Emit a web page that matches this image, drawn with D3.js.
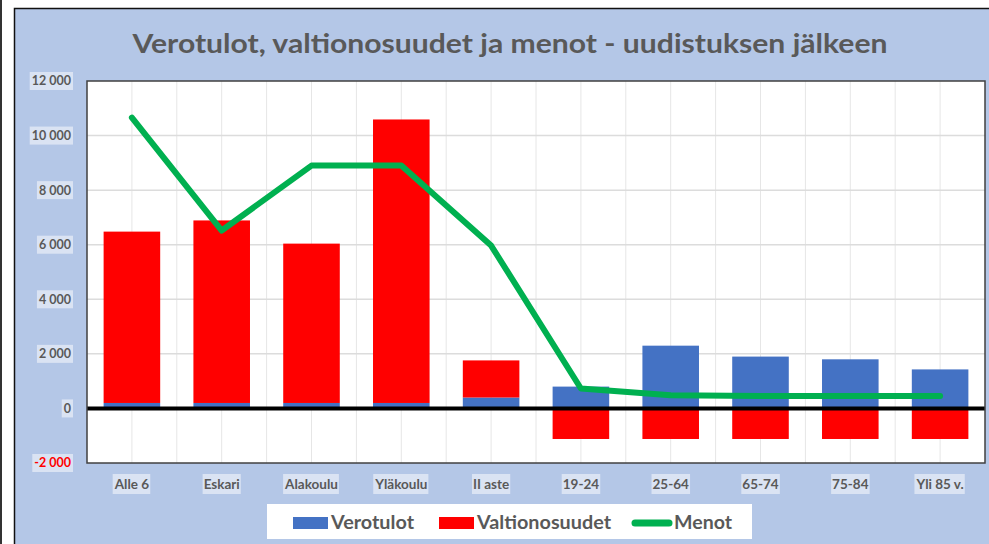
<!DOCTYPE html>
<html>
<head>
<meta charset="utf-8">
<script src="https://cdn.jsdelivr.net/npm/d3@7"></script>
<style>
  body { margin: 0; background: #fff; }
  svg { display: block; font-family: Lato, "Open Sans", sans-serif; }
</style>
</head>
<body>
<div id="chart"></div>
<script>
var width = 989;
var height = 544;

var categories = ["Alle 6", "Eskari", "Alakoulu", "Yläkoulu", "II aste", "19-24", "25-64", "65-74", "75-84", "Yli 85 v."];
var verotulot = [200, 200, 200, 200, 400, 800, 2300, 1900, 1800, 1430];
var valtionosuudet = [6280, 6690, 5840, 10390, 1360, -1120, -1120, -1120, -1120, -1120];
var menot = [10660, 6520, 8900, 8900, 5970, 730, 480, 460, 460, 460];
var yTicks = [-2000, 0, 2000, 4000, 6000, 8000, 10000, 12000];

var plot = {left: 87, top: 81, right: 985, bottom: 463};

var svg = d3.select("#chart").append("svg").attr("width", width).attr("height", height);

// outer frame
svg.append("line").attr("x1", 1).attr("y1", 0).attr("x2", 1).attr("y2", height)
    .attr("stroke", "#333").attr("stroke-width", 2);
svg.append("rect").attr("x", 14.5).attr("y", 8.5).attr("width", 990).attr("height", 550)
    .attr("fill", "#B4C7E7").attr("stroke", "#111").attr("stroke-width", 1.5);

// title
svg.append("text").attr("x", 510).attr("y", 53).attr("text-anchor", "middle")
    .attr("font-size", 27).attr("font-weight", "bold").attr("fill", "#595959")
    .attr("textLength", 755).attr("lengthAdjust", "spacingAndGlyphs")
    .text("Verotulot, valtionosuudet ja menot - uudistuksen jälkeen");

var x = d3.scaleBand().domain(categories).range([plot.left, plot.right])
    .paddingInner(0.37).paddingOuter(0.185);
var y = d3.scaleLinear().domain([-2000, 12000]).range([plot.bottom, plot.top]);
var step = x.step();

// plot area
svg.append("rect").attr("x", plot.left).attr("y", plot.top)
    .attr("width", plot.right - plot.left).attr("height", plot.bottom - plot.top)
    .attr("fill", "#fff");

// grid
var vgrid = d3.range(1, categories.length * 2);
svg.append("g").selectAll("line").data(vgrid).join("line")
    .attr("x1", function(d) { return plot.left + d * step / 2; })
    .attr("x2", function(d) { return plot.left + d * step / 2; })
    .attr("y1", plot.top).attr("y2", plot.bottom)
    .attr("stroke", "#E6E6E6").attr("stroke-width", 1);
svg.append("g").selectAll("line").data(yTicks.filter(function(d) { return d > -2000 && d < 12000; })).join("line")
    .attr("x1", plot.left).attr("x2", plot.right)
    .attr("y1", function(d) { return y(d); }).attr("y2", function(d) { return y(d); })
    .attr("stroke", "#DCDCDC").attr("stroke-width", 1.5);

// stacked bars
var rows = categories.map(function(c, i) {
    return {cat: c, vero: verotulot[i], valtio: valtionosuudet[i]};
});
var series = d3.stack().keys(["vero", "valtio"]).offset(d3.stackOffsetDiverging)(rows);
var colors = {vero: "#4472C4", valtio: "#FF0000"};

svg.append("g").selectAll("g").data(series).join("g")
    .attr("fill", function(s) { return colors[s.key]; })
    .selectAll("rect").data(function(s) { return s; }).join("rect")
    .attr("x", function(d) { return x(d.data.cat); })
    .attr("width", x.bandwidth())
    .attr("y", function(d) { return y(Math.max(d[0], d[1])); })
    .attr("height", function(d) { return Math.abs(y(d[0]) - y(d[1])); });

// zero line
svg.append("line").attr("x1", plot.left).attr("x2", plot.right)
    .attr("y1", y(0)).attr("y2", y(0))
    .attr("stroke", "#000").attr("stroke-width", 4);

// plot border
svg.append("rect").attr("x", plot.left).attr("y", plot.top)
    .attr("width", plot.right - plot.left).attr("height", plot.bottom - plot.top)
    .attr("fill", "none").attr("stroke", "#404040").attr("stroke-width", 1.5);

// menot line
var line = d3.line()
    .x(function(d, i) { return x(categories[i]) + x.bandwidth() / 2; })
    .y(function(d) { return y(d); });
svg.append("path").datum(menot).attr("d", line)
    .attr("fill", "none").attr("stroke", "#00B050").attr("stroke-width", 6)
    .attr("stroke-linejoin", "round").attr("stroke-linecap", "round");

// y axis labels with boxes
var yAx = svg.append("g");
yTicks.forEach(function(t) {
    var g = yAx.append("g");
    var txt = g.append("text").attr("x", 71).attr("y", y(t)).attr("dy", "0.35em")
        .attr("text-anchor", "end").attr("font-size", 12.5).attr("font-weight", "bold")
        .attr("fill", t < 0 ? "#FF0000" : "#595959")
        .text(d3.format(",")(t).replace(/,/g, " ").replace("−", "-"));
    var bb = txt.node().getBBox();
    g.insert("rect", "text").attr("x", bb.x - 2).attr("y", y(t) - 9)
        .attr("width", bb.width + 4).attr("height", 18).attr("fill", "#DAE3F3");
});

// x axis labels with boxes
var xAx = svg.append("g");
categories.forEach(function(c) {
    var g = xAx.append("g");
    var cx = x(c) + x.bandwidth() / 2;
    var txt = g.append("text").attr("x", cx).attr("y", 484).attr("dy", "0.35em")
        .attr("text-anchor", "middle").attr("font-size", 13.5).attr("font-weight", "bold")
        .attr("fill", "#595959").text(c);
    var bb = txt.node().getBBox();
    g.insert("rect", "text").attr("x", bb.x - 1).attr("y", 474)
        .attr("width", bb.width + 2).attr("height", 20).attr("fill", "#DAE3F3");
});

// legend
var legend = svg.append("g");
legend.append("rect").attr("x", 267).attr("y", 504).attr("width", 485).attr("height", 35).attr("fill", "#fff");
var legItems = [
    {name: "Verotulot", type: "rect", color: "#4472C4", sx: 293, tx: 331, tw: 83},
    {name: "Valtionosuudet", type: "rect", color: "#FF0000", sx: 439, tx: 477, tw: 134},
    {name: "Menot", type: "line", color: "#00B050", sx: 632, tx: 674, tw: 58}
];
legItems.forEach(function(d) {
    if (d.type == "rect") {
        legend.append("rect").attr("x", d.sx).attr("y", 517).attr("width", 35).attr("height", 12).attr("fill", d.color);
    } else {
        legend.append("line").attr("x1", d.sx + 3).attr("x2", d.sx + 37).attr("y1", 523).attr("y2", 523)
            .attr("stroke", d.color).attr("stroke-width", 7).attr("stroke-linecap", "round");
    }
    legend.append("text").attr("x", d.tx).attr("y", 529).attr("font-size", 18).attr("font-weight", "bold")
        .attr("fill", "#595959").attr("textLength", d.tw).attr("lengthAdjust", "spacingAndGlyphs").text(d.name);
});
</script>
</body>
</html>
